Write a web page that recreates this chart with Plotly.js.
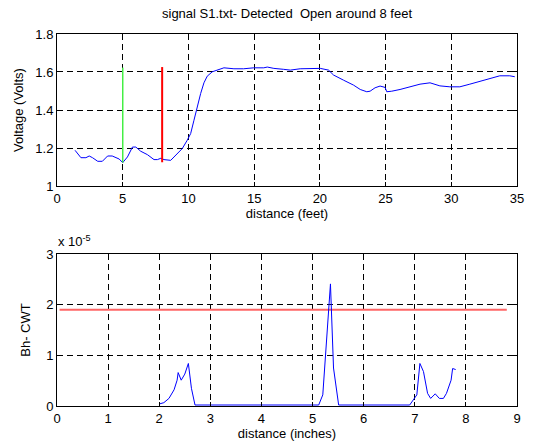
<!DOCTYPE html>
<html>
<head>
<meta charset="utf-8">
<script src="https://cdn.plot.ly/plotly-3.0.1.min.js"></script>
<style>html,body{margin:0;padding:0;background:#fff;}#chart{width:544px;height:445px;}</style>
</head>
<body>
<div id="chart"></div>
<script>
// Top panel: voltage vs distance (feet)
var voltX = [1.37,1.82,2.2,2.45,2.7,3.1,3.45,3.85,4.2,4.48,4.73,5.0,5.36,5.74,6.0,6.37,6.88,7.38,7.64,7.9,8.14,8.65,9.03,9.53,9.91,10.17,10.42,10.67,10.93,11.18,11.43,11.81,12.3,12.7,13.46,14.2,14.97,15.73,16.0,16.5,17.25,17.75,18.5,19.27,20.03,20.66,21.04,21.8,22.56,23.07,23.57,23.82,24.2,24.58,24.96,25.09,25.47,26.1,26.86,27.62,28.38,28.76,29.13,29.89,30.65,31.41,32.17,32.93,33.69,34.45,34.83];
var voltY = [1.188,1.149,1.149,1.158,1.149,1.13,1.13,1.158,1.158,1.149,1.142,1.123,1.153,1.205,1.205,1.183,1.165,1.139,1.139,1.146,1.139,1.135,1.162,1.197,1.241,1.276,1.346,1.417,1.487,1.543,1.578,1.601,1.614,1.622,1.617,1.617,1.622,1.622,1.626,1.619,1.614,1.61,1.617,1.619,1.619,1.61,1.584,1.557,1.531,1.508,1.496,1.499,1.517,1.526,1.519,1.496,1.499,1.508,1.522,1.536,1.543,1.536,1.527,1.522,1.522,1.536,1.552,1.566,1.58,1.58,1.575];
var greenMarkX = [5, 5];
var greenMarkY = [1.123, 1.623];
var redMarkX = [8, 8];
var redMarkY = [1.125, 1.626];

// Bottom panel: Bh-CWT vs distance (inches), units of 1e-5
var cwtX = [2.0,2.09,2.19,2.29,2.35,2.37,2.43,2.5,2.57,2.63,2.7,5.12,5.2,5.28,5.35,5.41,5.51,6.9,6.97,7.04,7.1,7.17,7.25,7.31,7.4,7.48,7.56,7.62,7.71,7.74,7.8];
var cwtY = [0.04,0.066,0.15,0.32,0.51,0.66,0.51,0.63,0.84,0.35,0.02,0.02,0.22,1.47,2.41,0.75,0.02,0.02,0.12,0.22,0.84,0.68,0.25,0.15,0.24,0.15,0.15,0.25,0.51,0.74,0.72];
var thresholdX = [0.05, 8.8];
var thresholdY = [1.9, 1.9];

var FONT = 'Arial, "Liberation Sans", sans-serif';

var traces = [
  {x: voltX, y: voltY, xaxis:'x', yaxis:'y', mode:'lines', line:{color:'#0000ff', width:1}, hoverinfo:'skip'},
  {x: greenMarkX, y: greenMarkY, xaxis:'x', yaxis:'y', mode:'lines', line:{color:'#44ee44', width:1.5}, hoverinfo:'skip'},
  {x: redMarkX, y: redMarkY, xaxis:'x', yaxis:'y', mode:'lines', line:{color:'#ff0000', width:2}, hoverinfo:'skip'},
  {x: thresholdX, y: thresholdY, xaxis:'x2', yaxis:'y2', mode:'lines', line:{color:'#ff6666', width:2}, hoverinfo:'skip'},
  {x: cwtX, y: cwtY, xaxis:'x2', yaxis:'y2', mode:'lines', line:{color:'#0000ff', width:1}, hoverinfo:'skip'}
];

function ax(extra){
  var base = {
    showline:true, linecolor:'#000', linewidth:1, mirror:'ticks',
    ticks:'inside', ticklen:4, tickcolor:'#000',
    showgrid:true, gridcolor:'#000', gridwidth:1, griddash:'6px,4px',
    zeroline:false, tickfont:{family:FONT, size:13, color:'#000'},
    fixedrange:true
  };
  for (var k in extra) base[k] = extra[k];
  return base;
}

var layout = {
  width:544, height:445,
  margin:{l:0,r:0,t:0,b:0},
  paper_bgcolor:'#fff', plot_bgcolor:'#fff',
  showlegend:false,
  font:{family:FONT, color:'#000'},
  xaxis: ax({domain:[0.1048,0.9504], anchor:'y', range:[0,35], tickmode:'linear', tick0:0, dtick:5,
    title:{text:'distance (feet)', font:{family:FONT,size:13}, standoff:3}}),
  yaxis: ax({domain:[0.582,0.9236], anchor:'x', range:[1,1.8], tickmode:'array', tickvals:[1,1.2,1.4,1.6,1.8], ticktext:['1','1.2','1.4','1.6','1.8'],
    title:{text:'Voltage (Volts)', font:{family:FONT,size:13}, standoff:8}}),
  xaxis2: ax({domain:[0.1048,0.9504], anchor:'y2', range:[0,9], tickmode:'linear', tick0:0, dtick:1,
    title:{text:'distance (inches)', font:{family:FONT,size:13}, standoff:3}}),
  yaxis2: ax({domain:[0.0876,0.4292], anchor:'x2', range:[0,3], tickmode:'linear', tick0:0, dtick:1,
    title:{text:'Bh- CWT', font:{family:FONT,size:13}, standoff:12}}),
  annotations:[
    {text:'signal S1.txt- Detected  Open around 8 feet', xref:'paper', yref:'paper', x:0.5275, y:(445-14)/445,
     xanchor:'center', yanchor:'middle', showarrow:false, font:{family:FONT,size:13,color:'#000'}},
    {text:'x 10<sup>-5</sup>', xref:'paper', yref:'paper', x:56/544, y:(445-241)/445,
     xanchor:'left', yanchor:'middle', showarrow:false, font:{family:FONT,size:13,color:'#000'}}
  ]
};

Plotly.newPlot('chart', traces, layout, {displayModeBar:false, staticPlot:true});
</script>
</body>
</html>
